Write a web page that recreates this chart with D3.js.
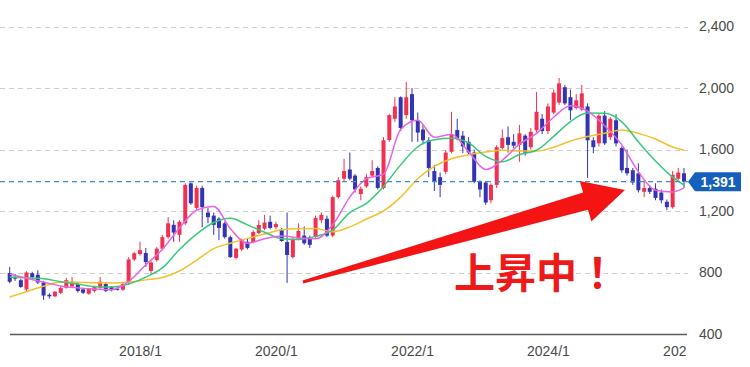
<!DOCTYPE html>
<html>
<head>
<meta charset="utf-8">
<script src="https://cdn.jsdelivr.net/npm/d3@7"></script>
<style>
  body { margin: 0; background: #fff; }
  svg { display: block; font-family: "Liberation Sans", Arial, sans-serif; }
</style>
</head>
<body>
<svg id="chart" width="750" height="367"></svg>
<script>
// monthly candles, first one is 2016/2, last one 2026/1
const firstMonth = "2016-02";
const opens = [797,770,750,690,795,785,735,655,645,668,700,710,725,690,662,680,700,725,705,695,
  688,735,885,920,927,810,880,955,1030,1110,1045,1120,1380,1220,1350,1190,1170,1150,1120,1030,
  895,950,1000,998,1057,1085,1130,1095,1075,998,900,1020,1040,1030,1031,1141,1150,1040,1290,1410,
  1470,1430,1310,1360,1430,1480,1350,1662,1800,1940,1824,1960,1790,1730,1660,1460,1420,1455,1585,1727,
  1690,1650,1580,1395,1385,1270,1370,1610,1680,1650,1630,1690,1615,1725,1800,1720,1840,1905,2005,1940,
  1870,1860,1880,1660,1640,1820,1680,1790,1610,1480,1465,1445,1325,1350,1345,1320,1260,1225,1410,1445];
const highs = [836,790,760,808,805,815,745,665,680,710,765,770,735,700,700,715,770,735,712,705,
  735,900,935,1000,960,875,965,1045,1160,1140,1140,1380,1385,1365,1365,1220,1190,1160,1130,1040,
  960,1020,1020,1075,1141,1175,1170,1130,1090,1190,1030,1120,1100,1040,1170,1190,1170,1300,1420,1540,
  1580,1440,1360,1440,1530,1490,1680,1830,1940,1945,2040,2000,1840,1760,1680,1500,1450,1595,1845,1800,
  1720,1680,1600,1400,1395,1380,1630,1730,1750,1700,1760,1700,1740,1975,1830,1900,1990,2065,2020,1990,
  1960,2020,1900,1680,1830,1850,1810,1830,1620,1600,1480,1510,1400,1370,1380,1340,1275,1460,1480,1480];
const lows = [730,745,700,680,760,725,622,630,640,660,695,705,670,660,655,670,695,672,678,682,
  680,720,875,910,836,790,870,945,1020,1000,1000,1110,1240,1200,1095,1120,1045,1010,1020,895,
  885,940,950,990,1050,1075,1080,1080,1000,732,890,1010,980,960,1020,1120,1030,1030,1280,1395,
  1400,1320,1270,1350,1420,1340,1340,1650,1780,1720,1800,1650,1650,1640,1420,1330,1290,1440,1575,1660,
  1577,1570,1380,1290,1240,1250,1350,1600,1580,1610,1520,1560,1600,1710,1700,1700,1830,1890,1890,1792,
  1860,1850,1415,1575,1620,1630,1660,1620,1450,1430,1370,1320,1290,1310,1270,1250,1205,1215,1400,1350];
const closes = [740,760,706,800,770,735,650,645,675,700,750,740,680,668,695,705,740,680,685,688,
  725,885,925,945,868,865,955,1030,1120,1060,1130,1370,1250,1350,1225,1160,1110,1090,1030,900,
  955,1010,960,1063,1109,1125,1090,1115,1005,914,1011,1070,990,980,1155,1175,1040,1290,1400,1460,
  1410,1340,1345,1420,1460,1350,1660,1824,1880,1740,1940,1790,1710,1660,1480,1390,1370,1580,1695,1675,
  1620,1580,1390,1340,1255,1370,1615,1675,1630,1625,1705,1580,1715,1845,1720,1880,1970,2030,1900,1855,
  1920,1965,1660,1615,1820,1640,1800,1640,1465,1445,1385,1335,1350,1325,1285,1270,1225,1435,1450,1391];

// moving averages, every 3 months (offset from firstMonth)
const maMonths = [0,3,6,9,12,15,18,21,24,27,30,33,36,39,42,45,48,51,54,57,
  60,63,66,69,72,75,78,81,84,87,90,93,96,99,102,105,108,111,114,117,119];
const maShort = [790,762,738,712,700,692,688,740,850,950,1090,1205,1230,1085,990,1020,1037,1025,1020,1110,
  1290,1410,1440,1730,1790,1680,1700,1585,1470,1530,1635,1705,1810,1885,1850,1755,1630,1455,1335,1324,1350];
const maMid = [770,766,760,740,725,708,706,725,770,830,950,1050,1125,1153,1110,1062,1020,1015,1035,1076,
  1190,1250,1360,1500,1618,1664,1673,1643,1555,1520,1567,1595,1685,1782,1837,1835,1780,1650,1525,1420,1369];
const maLong = [641,675,710,738,736,733,732,738,752,767,810,880,955,990,1022,1050,1078,1085,1086,1065,
  1097,1148,1200,1290,1410,1490,1540,1566,1583,1595,1590,1590,1615,1655,1684,1705,1727,1705,1668,1616,1595];

const yTicks = [400, 800, 1200, 1600, 2000, 2400];
const xTickYears = [2018, 2020, 2022, 2024, 2026];
const lastPrice = 1391;
const callout = "上昇中！";
// arrow annotation anchored in data space
const arrowFrom = { date: "2020-05-25", value: 738 };
const arrowTo = { date: "2025-02-18", value: 1337 };

const W = 750, H = 367, plotRight = 688;
const upColor = "#f2304f", downColor = "#3434b2";

const svg = d3.select("#chart");
const start = d3.timeParse("%Y-%m")(firstMonth);
const months = closes.map((_, i) => d3.timeMonth.offset(start, i));

const x = d3.scaleTime()
  .domain([start, months[months.length - 1]])
  .range([9.7, 684]);
const y = d3.scaleLinear().domain([400, 2400]).range([334, 26.5]);

const defs = svg.append("defs");
defs.append("clipPath").attr("id", "plot")
  .append("rect").attr("x", 0).attr("y", 0).attr("width", plotRight).attr("height", H);
defs.append("clipPath").attr("id", "xlab")
  .append("rect").attr("x", 0).attr("y", 0).attr("width", 686.5).attr("height", H);

// grid
svg.append("g").selectAll("line")
  .data(yTicks.filter(d => d > 400))
  .join("line")
  .attr("x1", 0).attr("x2", plotRight)
  .attr("y1", d => Math.round(y(d)) + 0.5).attr("y2", d => Math.round(y(d)) + 0.5)
  .attr("stroke", "#cfcfcf")
  .attr("stroke-dasharray", "5,4");

// y axis on the right
const yAxis = svg.append("g")
  .attr("transform", `translate(${plotRight},0)`)
  .call(d3.axisRight(y).tickValues(yTicks).tickFormat(d3.format(",")).tickSize(0).tickPadding(11));
yAxis.select(".domain").remove();
yAxis.selectAll("text").attr("fill", "#4a4a4a").style("font-size", "14px");

// x axis
svg.append("line")
  .attr("x1", 10).attr("x2", plotRight - 1)
  .attr("y1", 334.5).attr("y2", 334.5)
  .attr("stroke", "#5a5a5a").attr("stroke-width", 1.5);
const xAxis = svg.append("g")
  .attr("clip-path", "url(#xlab)")
  .attr("transform", "translate(0,334)")
  .call(d3.axisBottom(x)
    .tickValues(xTickYears.map(yr => new Date(yr, 0, 1)))
    .tickFormat(d3.timeFormat("%Y/%-m"))
    .tickSize(0).tickPadding(12));
xAxis.select(".domain").remove();
xAxis.selectAll("text").attr("fill", "#4a4a4a").style("font-size", "14px");

// candles
const candles = months.map((m, i) => ({ m, o: opens[i], h: highs[i], l: lows[i], c: closes[i] }));
const cg = svg.append("g").attr("clip-path", "url(#plot)");
cg.selectAll("line.wick")
  .data(candles)
  .join("line")
  .attr("class", "wick")
  .attr("x1", d => x(d.m)).attr("x2", d => x(d.m))
  .attr("y1", d => y(d.h)).attr("y2", d => y(d.l))
  .attr("stroke", d => d.c >= d.o ? upColor : downColor)
  .attr("stroke-width", 1);
const bw = 4;
cg.selectAll("rect.body")
  .data(candles)
  .join("rect")
  .attr("class", "body")
  .attr("x", d => x(d.m) - bw / 2)
  .attr("width", bw)
  .attr("y", d => y(Math.max(d.o, d.c)))
  .attr("height", d => Math.max(1.2, Math.abs(y(d.o) - y(d.c))))
  .attr("fill", d => d.c >= d.o ? upColor : downColor);

// moving averages
const line = d3.line()
  .x(d => x(d3.timeMonth.offset(start, d[0])))
  .y(d => y(d[1]))
  .curve(d3.curveMonotoneX);
[[maLong, "#f4c02c"], [maMid, "#36c978"], [maShort, "#e864e4"]].forEach(([vals, col]) => {
  cg.append("path")
    .datum(maMonths.map((k, i) => [k, vals[i]]))
    .attr("d", line)
    .attr("fill", "none")
    .attr("stroke", col)
    .attr("stroke-width", 1.5);
});

// last price line and tag
const yp = y(lastPrice);
svg.append("line")
  .attr("x1", 0).attr("x2", plotRight)
  .attr("y1", yp).attr("y2", yp)
  .attr("stroke", "#3d8ad6").attr("stroke-width", 1.2)
  .attr("stroke-dasharray", "5,4");
svg.append("path")
  .attr("d", `M${plotRight},${yp} L${plotRight + 7},${yp - 9.5} L741,${yp - 9.5} L741,${yp + 9.5} L${plotRight + 7},${yp + 9.5} Z`)
  .attr("fill", "#1560bd");
svg.append("text")
  .attr("x", 718).attr("y", yp + 5)
  .attr("text-anchor", "middle")
  .attr("fill", "#fff")
  .style("font-size", "14px").style("font-weight", "bold")
  .text(d3.format(",")(lastPrice));

// red arrow
const p0 = [x(d3.isoParse(arrowFrom.date)), y(arrowFrom.value)];
const p1 = [x(d3.isoParse(arrowTo.date)), y(arrowTo.value)];
const dx = p1[0] - p0[0], dy = p1[1] - p0[1];
const len = Math.hypot(dx, dy);
const u = [dx / len, dy / len], n = [-u[1], u[0]];
const headLen = 41, headHalf = 21, tailHalf = 1.5, neckHalf = 9;
const at = (d, w) => [p0[0] + u[0] * d + n[0] * w, p0[1] + u[1] * d + n[1] * w];
const pts = [
  at(0, -tailHalf), at(len - headLen, -neckHalf), at(len - headLen, -headHalf), p1,
  at(len - headLen, headHalf), at(len - headLen, neckHalf), at(0, tailHalf)
];
svg.append("path")
  .attr("d", "M" + pts.map(p => p.join(",")).join("L") + "Z")
  .attr("fill", "#f41414");

svg.append("text")
  .attr("x", 454).attr("y", 288)
  .attr("fill", "#ee1a1a")
  .style("font-family", "'Noto Sans CJK JP', sans-serif")
  .style("font-size", "41px").style("font-weight", "bold")
  .text(callout);
</script>
</body>
</html>
